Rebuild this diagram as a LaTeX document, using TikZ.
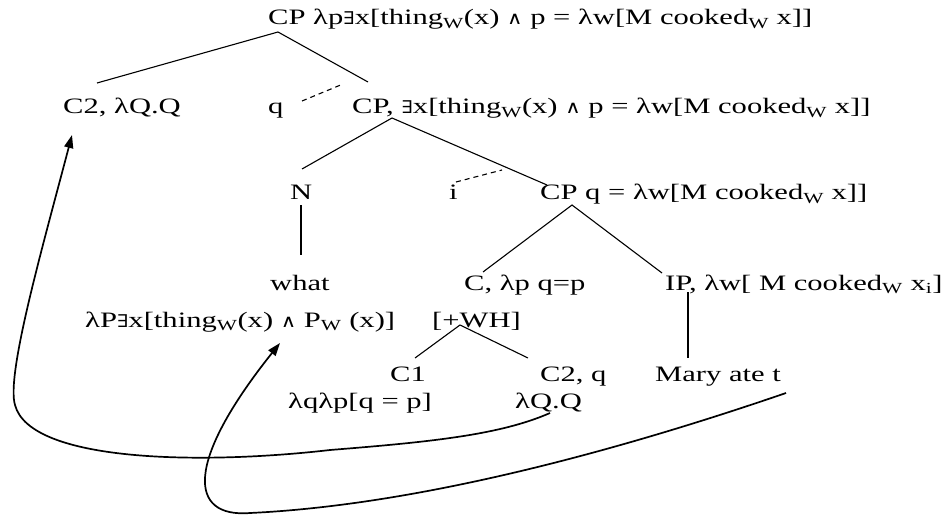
\documentclass[tikz,border=0pt]{standalone}
\usepackage{fontspec}
\setmainfont[FakeStretch=1.39]{Liberation Serif}
\newfontfamily\symf[FakeStretch=1.2,Scale=0.8]{DejaVu Serif}
\usetikzlibrary{arrows.meta}
\newcommand\myex{{\symf ∃}}
\newcommand\myand{{\symf ∧}}
\newcommand\sW{\textsubscript{W}}
\begin{document}
\begin{tikzpicture}[x=1pt,y=-1pt,
  txt/.style={anchor=base west,inner sep=0pt,font=\fontsize{22}{25}\selectfont},
  br/.style={line width=1.1pt},
  dbr/.style={line width=1.1pt,dashed,dash pattern=on 5pt off 4pt},
  mv/.style={line width=1.7pt,-{Triangle[length=13pt,width=9pt]}}]
\useasboundingbox (0,0) rectangle (951,516);
% texts
\node[txt] (top)  at (268,25)  {CP λp\myex x[thing\sW(x) \myand{} p = λw[M cooked\sW{} x]]};
\node[txt] (c2)   at (63,114)  {C2, λQ.Q};
\node[txt] (q)    at (268,114) {q};
\node[txt] (cp2)  at (352,114) {CP, \myex x[thing\sW(x) \myand{} p = λw[M cooked\sW{} x]]};
\node[txt] (n)    at (290,200) {N};
\node[txt] (i)    at (449,200) {i};
\node[txt] (cp3)  at (540,200) {CP q = λw[M cooked\sW{} x]]};
\node[txt] (what) at (270,290) {what};
\node[txt] (c)    at (464,290) {C, λp q=p};
\node[txt] (ip)   at (665,290) {IP, λw[ M cooked\sW{} x\textsubscript{i}]};
\node[txt] (lp)   at (85,327)  {λP\myex x[thing\sW(x) \myand{} P\sW{} (x)]};
\node[txt] (wh)   at (432,327) {[+WH]};
\node[txt] (c1)   at (390,381) {C1};
\node[txt] (c2q)  at (540,381) {C2, q};
\node[txt] (mary) at (655,381) {Mary ate t};
\node[txt] (lq)   at (288,408) {λqλp[q = p]};
\node[txt] (lQ)   at (515,408) {λQ.Q};
% branch points
\coordinate (t0) at (278,32);  \coordinate (t1) at (97,83);   \coordinate (t2) at (368,82);
\coordinate (qa) at (302,101); \coordinate (qb) at (343,84);
\coordinate (u0) at (392,118); \coordinate (u1) at (302,169); \coordinate (u2) at (547,185);
\coordinate (ia) at (456,182); \coordinate (ib) at (502,170);
\coordinate (v0) at (572,205); \coordinate (v1) at (483,272); \coordinate (v2) at (662,273);
\coordinate (na) at (301,205); \coordinate (nb) at (301,255);
\coordinate (w0) at (460,325); \coordinate (w1) at (415,358); \coordinate (w2) at (528,358);
\coordinate (pa) at (688,292); \coordinate (pb) at (688,358);
\coordinate (as) at (550,413); \coordinate (at) at (72,135);
\coordinate (bs) at (786,393); \coordinate (bt) at (280,343);
\draw[br] (t1) -- (t0) -- (t2);
\draw[dbr] (qa) -- (qb);
\draw[br] (u1) -- (u0) -- (u2);
\draw[dbr] (ia) -- (ib);
\draw[br] (v1) -- (v0) -- (v2);
\draw[br] (na) -- (nb);
\draw[br] (w1) -- (w0) -- (w2);
\draw[br] (pa) -- (pb);
% movement arrows
\draw[mv] (as) .. controls (500,435) and (430,442) .. (330,450)
  .. controls (200,465) and (30,462) .. (15,405)
  .. controls (6,375) and (42,249) .. (at);
\draw[mv] (bs) .. controls (620,450) and (420,505) .. (250,513)
  .. controls (188,518) and (185,462) .. (bt);
\end{tikzpicture}
\end{document}
